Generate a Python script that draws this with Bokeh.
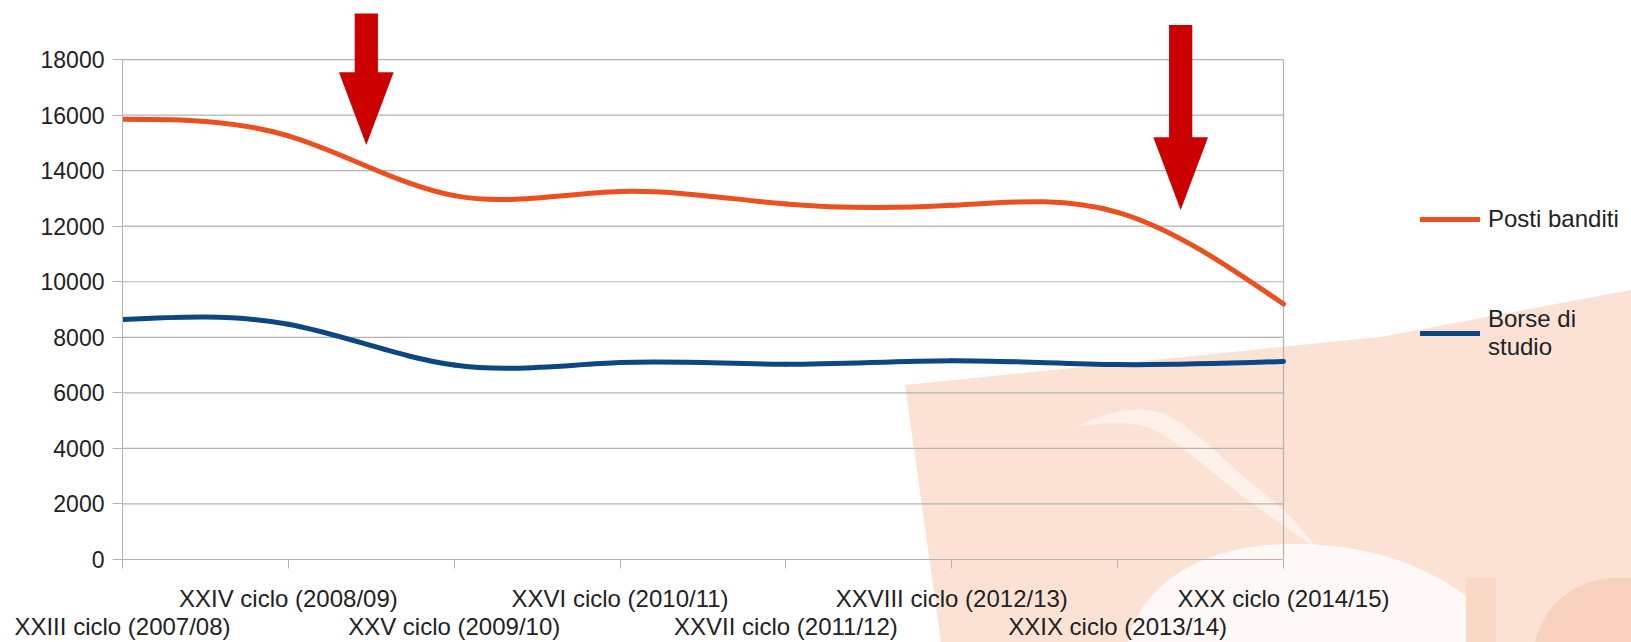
import numpy as np
from urllib.parse import quote
from bokeh.plotting import figure
from bokeh.models import (Range1d, FixedTicker, ColumnDataSource, Legend, LegendItem)
from bokeh.embed import file_html
from bokeh.resources import INLINE

# ---------------- data ----------------
categories = ["XXIII ciclo (2007/08)", "XXIV ciclo (2008/09)", "XXV ciclo (2009/10)",
              "XXVI ciclo (2010/11)", "XXVII ciclo (2011/12)", "XXVIII ciclo (2012/13)",
              "XXIX ciclo (2013/14)", "XXX ciclo (2014/15)"]
posti_banditi = [15850, 15250, 13100, 13250, 12800, 12750, 12500, 9200]
borse_di_studio = [8640, 8470, 7000, 7090, 7030, 7160, 7020, 7130]
y_ticks = [0, 2000, 4000, 6000, 8000, 10000, 12000, 14000, 16000, 18000]
series_names = ["Posti banditi", "Borse di\nstudio"]

# annotation arrows (category position, tip value, top value)
arrow_x = [1.47, 6.38]
arrow_tip = [14920, 12580]
arrow_top = [19660, 19240]

# ---------------- style / layout constants ----------------
FONT = "Liberation Sans"
TXT = "#222222"
GRID = "#b3b3b3"
C_POSTI = "#ea5020"
C_BORSE = "#0d4783"
W, H = 1631, 642
FRAME_L, AXIS_R, FRAME_T, FRAME_B = 122, 1283, 0, 568
n = len(categories)
PX_PER_CAT = (AXIS_R - FRAME_L) / (n - 1)
X_MAX = (W - FRAME_L) / PX_PER_CAT          # frame runs to the canvas edge (legend inside)
Y_MAX = 18000 * (FRAME_B - FRAME_T) / 508.0


def spline_bezier(y):
    """Natural cubic spline through the points, expressed as Bezier segments."""
    y = np.asarray(y, float)
    m = len(y)
    A = np.zeros((m, m))
    b = np.zeros(m)
    A[0, 0] = A[-1, -1] = 1.0
    for i in range(1, m - 1):
        A[i, i - 1], A[i, i], A[i, i + 1] = 1.0, 4.0, 1.0
        b[i] = 6.0 * (y[i + 1] - 2 * y[i] + y[i - 1])
    M = np.linalg.solve(A, b)
    D = np.empty(m)
    D[:-1] = (y[1:] - y[:-1]) - (2 * M[:-1] + M[1:]) / 6.0
    D[-1] = (y[-1] - y[-2]) + (M[-2] + 2 * M[-1]) / 6.0
    x = np.arange(m, dtype=float)
    return ColumnDataSource(dict(
        x0=x[:-1], y0=y[:-1], x1=x[1:], y1=y[1:],
        cx0=x[:-1] + 1 / 3, cy0=y[:-1] + D[:-1] / 3,
        cx1=x[1:] - 1 / 3, cy1=y[1:] - D[1:] / 3))


# decorative watermark behind the chart (pale logo shape), as a CSS background
WATERMARK_SVG = (
    "<svg xmlns='http://www.w3.org/2000/svg' width='1631' height='642'>"
    "<polygon points='905,385 1380,337 1631,290 1631,642 941,642' fill='#fbe2d5'/>"
    "<path d='M1078,426 C1105,412 1140,404 1165,414 C1195,428 1225,462 1262,492 "
    "C1290,515 1305,530 1316,548 C1290,530 1262,512 1232,488 C1200,462 1175,440 1150,428 "
    "C1125,420 1100,424 1078,426 Z' fill='#ffffff' fill-opacity='0.5'/>"
    "<path d='M1128,642 C1140,588 1192,552 1268,545 C1360,538 1440,566 1486,614 L1496,642 Z' "
    "fill='#ffffff' fill-opacity='0.8'/>"
    "<rect x='1466' y='578' width='30' height='64' fill='#f9d8c6'/>"
    "<path d='M1535,642 C1545,604 1572,582 1610,578 L1631,578 L1631,642 Z' fill='#f8d2bf'/>"
    "</svg>"
)

p = figure(width=W, height=H, x_range=Range1d(0, X_MAX), y_range=Range1d(0, Y_MAX),
           output_backend="svg", toolbar_location=None,
           min_border_left=FRAME_L, min_border_right=0,
           min_border_top=FRAME_T, min_border_bottom=H - FRAME_B)
p.outline_line_color = None
p.background_fill_color = None
p.border_fill_color = None
p.styles = {
    "background-color": "#ffffff",
    "background-image": "url(\"data:image/svg+xml;utf8," + quote(WATERMARK_SVG) + "\")",
    "background-repeat": "no-repeat",
    "background-size": "1631px 642px",
    "background-position": "0px 0px",
}

# ---- grid (only over the category span) & axes ----
p.xgrid.visible = False
p.ygrid.visible = False
p.segment(x0=[0] * len(y_ticks), x1=[n - 1] * len(y_ticks), y0=y_ticks, y1=y_ticks,
          line_color=GRID, line_width=1.2)
# right border of plot area
p.segment(x0=[n - 1], y0=[0], x1=[n - 1], y1=[18000], line_color=GRID, line_width=1.2)

p.yaxis.ticker = FixedTicker(ticks=y_ticks)
p.yaxis.bounds = (0, 18000)
p.yaxis.axis_line_color = GRID
p.yaxis.major_tick_line_color = GRID
p.yaxis.major_tick_out = 10
p.yaxis.major_tick_in = 0
p.yaxis.minor_tick_line_color = None
p.yaxis.major_label_standoff = 8
p.yaxis.major_label_text_font = FONT
p.yaxis.major_label_text_font_size = "23px"
p.yaxis.major_label_text_color = TXT

p.xaxis.ticker = FixedTicker(ticks=list(range(n)))
p.xaxis.bounds = (0, n - 1)
p.xaxis.axis_line_color = GRID
p.xaxis.major_tick_line_color = GRID
p.xaxis.major_tick_out = 9
p.xaxis.major_tick_in = 0
p.xaxis.minor_tick_line_color = None
p.xaxis.major_label_standoff = 16
p.xaxis.major_label_text_font = FONT
p.xaxis.major_label_text_font_size = "24px"
p.xaxis.major_label_text_line_height = 1.04
p.xaxis.major_label_text_color = TXT
# staggered category labels: odd ones on the first row, even ones on the second
p.xaxis.major_label_overrides = {i: (categories[i] if i % 2 == 1 else "\n" + categories[i])
                                 for i in range(n)}

# ---- series (smoothed) ----
r1 = p.bezier(x0="x0", y0="y0", x1="x1", y1="y1", cx0="cx0", cy0="cy0", cx1="cx1", cy1="cy1",
              source=spline_bezier(posti_banditi), line_color=C_POSTI, line_width=5,
              line_cap="round")
r2 = p.bezier(x0="x0", y0="y0", x1="x1", y1="y1", cx0="cx0", cy0="cy0", cx1="cx1", cy1="cy1",
              source=spline_bezier(borse_di_studio), line_color=C_BORSE, line_width=5,
              line_cap="round")

# ---- red arrows ----
HEAD_LEN = 2620
HEAD_HALF = 0.165
SHAFT_HALF = 0.07
ax = np.array(arrow_x)
at = np.array(arrow_tip)
atop = np.array(arrow_top)
p.quad(left=ax - SHAFT_HALF, right=ax + SHAFT_HALF, bottom=at + HEAD_LEN - 50, top=atop,
       fill_color="#cc0000", line_color=None)
p.patches(xs=[[x - HEAD_HALF, x + HEAD_HALF, x] for x in ax],
          ys=[[t + HEAD_LEN, t + HEAD_LEN, t] for t in at],
          fill_color="#cc0000", line_color=None)

# ---- legend (inside the widened frame, right of the plot area) ----
legend = Legend(items=[LegendItem(label=series_names[0], renderers=[r1]),
                       LegendItem(label=series_names[1], renderers=[r2])],
                location=(1298, 198), orientation="vertical",
                glyph_width=60, glyph_height=20, label_standoff=8, spacing=72,
                padding=0, margin=0, border_line_color=None, background_fill_alpha=0,
                label_text_font=FONT, label_text_font_size="24px",
                label_text_line_height=1.1, label_text_color=TXT)
p.add_layout(legend, "center")

open("out.html", "w").write(file_html(p, INLINE))
